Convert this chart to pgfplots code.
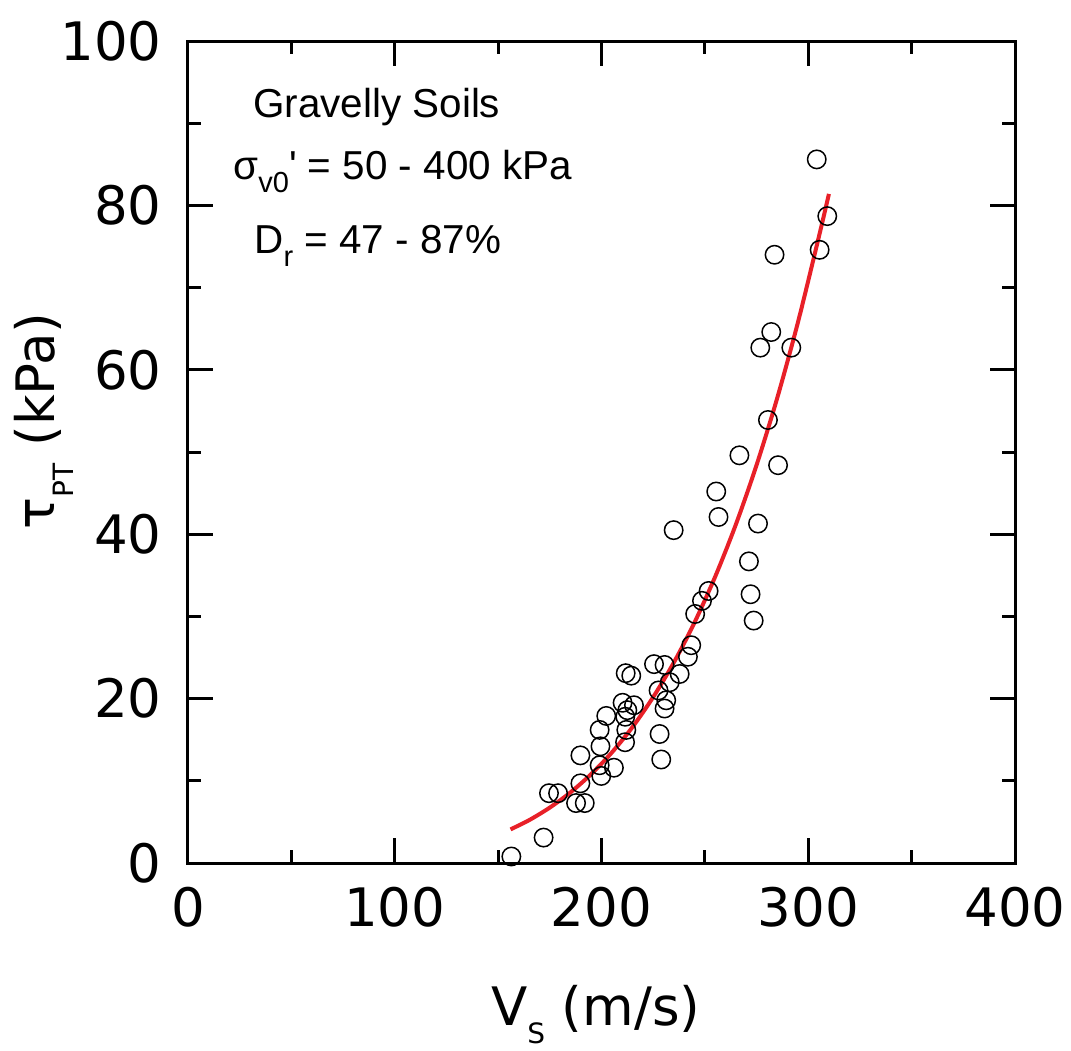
\documentclass[border=0pt]{standalone}
\usepackage{fontspec}
\setmainfont{DejaVu Sans}
\newfontfamily\arialf{Liberation Sans}
\usepackage{pgfplots}
\pgfplotsset{compat=1.18}
\definecolor{fitred}{RGB}{232,32,40}
\newcommand\bigf{\fontsize{26.5}{30}\selectfont}
\newcommand\annf{\arialf\fontsize{20.2}{22}\selectfont}
\begin{document}
\begin{tikzpicture}
\begin{axis}[
  scale only axis,
  width=413.5pt, height=411pt,
  xmin=0, xmax=400, ymin=0, ymax=100,
  xtick={0,100,200,300,400},
  ytick={0,20,40,60,80,100},
  minor x tick num=1, minor y tick num=1,
  tick align=inside,
  xtick pos=both, ytick pos=both,
  major tick length=12.5pt, minor tick length=6.5pt,
  axis line style={line width=1.5pt},
  every tick/.style={line width=1.5pt, black},
  every minor tick/.style={line width=1.5pt, black},
  /pgf/number format/assume math mode=true,
  ticklabel style={font=\bigf},
  xticklabel style={inner xsep=0pt, inner ysep=12pt},
  yticklabel style={inner xsep=13pt, inner ysep=0pt},
  xlabel={V\raisebox{-9pt}{\fontsize{14}{14}\selectfont S} (m/s)},
  ylabel={τ\raisebox{-9.5pt}{\fontsize{14}{14}\selectfont PT} (kPa)},
  label style={font=\bigf},
  xlabel style={at={(axis description cs:0.493,-0.197)}, anchor=base},
  ylabel style={at={(axis description cs:-0.161,0.538)}, anchor=base},
  clip=false,
]
\path (rel axis cs:-0.2273,-0.2214) rectangle (rel axis cs:1.0677,1.0499);
\addplot[only marks, mark=o, mark size=4.6pt, mark options={line width=0.75pt, black}] coordinates {
(156.4,0.8) (172.0,3.1) (174.6,8.5) (179.0,8.5) (187.7,7.3) (191.9,7.3)
(189.8,9.7) (189.8,13.1) (199.9,10.6) (206.0,11.6) (199.1,11.9) (199.5,14.2)
(199.1,16.2) (202.3,17.9) (210.2,19.5) (212.5,18.6) (211.5,17.8) (211.7,23.1)
(214.4,22.8) (211.4,14.7) (212.0,16.2) (215.7,19.2) (225.4,24.2) (228.1,15.7)
(228.9,12.6) (230.5,24.1) (237.8,23.0) (233.0,22.0) (227.6,21.0) (231.3,19.8)
(230.5,18.8) (241.8,25.1) (243.4,26.5) (245.3,30.3) (248.6,31.9) (251.8,33.1)
(234.9,40.5) (255.5,45.2) (256.6,42.1) (266.7,49.6) (275.7,41.3) (271.3,36.7)
(272.1,32.7) (273.6,29.5) (280.5,53.9) (285.4,48.4) (276.8,62.7) (282.1,64.6)
(291.8,62.7) (283.7,74.0) (305.5,74.6) (309.2,78.7) (304.1,85.6)
};
\addplot[fitred, line width=2pt, smooth] coordinates {
(156,4.10) (165,5.22) (175,6.75) (185,8.60) (195,10.82) (205,13.45)
(215,16.55) (225,20.19) (235,24.40) (245,29.27) (255,34.85) (265,41.20)
(275,48.42) (285,56.58) (295,65.77) (305,76.05) (310,81.4)
};
\node[anchor=base west, inner sep=0pt, font=\annf] at (axis cs:31.4,90.7) {Gravelly Soils};
\node[anchor=base west, inner sep=0pt, font=\annf] at (axis cs:21.8,83.2) {σ\raisebox{-6.5pt}{\fontsize{14.5}{14.5}\selectfont v0}' = 50 - 400 kPa};
\node[anchor=base west, inner sep=0pt, font=\annf] at (axis cs:32.0,74.1) {D\raisebox{-6.5pt}{\fontsize{14.5}{14.5}\selectfont r} = 47 - 87\%};
\end{axis}
\end{tikzpicture}
\end{document}
